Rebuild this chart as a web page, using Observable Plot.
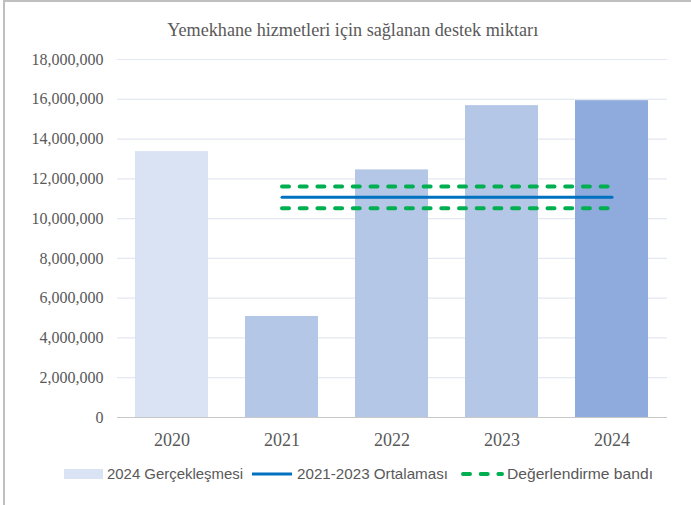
<!DOCTYPE html>
<html>
<head>
<meta charset="utf-8">
<script src="https://cdn.jsdelivr.net/npm/d3@7"></script>
<script src="https://cdn.jsdelivr.net/npm/@observablehq/plot@0.6"></script>
<style>
  html, body { margin: 0; padding: 0; background: #fff; }
  #wrap { position: relative; width: 691px; height: 505px; overflow: hidden; background: #fff; }
  #frameTop { position: absolute; left: 3px; top: 0; width: 688px; height: 2px; background: #bfbfbf; }
  #frameLeft { position: absolute; left: 3px; top: 0; width: 2px; height: 505px; background: #bfbfbf; }
  #title { position: absolute; left: 0; top: 0; }
  #chart { position: absolute; left: 0; top: 50px; }
  #legend { position: absolute; left: 0; top: 455px; }
  #chart svg, #chart svg g, #chart svg text { font-family: "Liberation Serif", "DejaVu Serif", serif !important; font-variant: normal !important; font-variant-numeric: normal !important; }
  #chart svg [stroke-dasharray], #chart svg [stroke-dasharray] path { stroke-linecap: round; }
</style>
</head>
<body>
<div id="wrap">
  <div id="frameTop"></div>
  <div id="frameLeft"></div>
  <svg id="title" width="691" height="50">
    <text x="352.7" y="36" text-anchor="middle" textLength="371" lengthAdjust="spacingAndGlyphs"
      font-family="'Liberation Serif', 'DejaVu Serif', serif" font-size="18.2" fill="#595959">Yemekhane hizmetleri için sağlanan destek miktarı</text>
  </svg>
  <div id="chart"></div>
  <svg id="legend" width="691" height="40"></svg>
</div>
<script>
// ---- data ----
const years = ["2020", "2021", "2022", "2023", "2024"];
const amounts = [13370000, 5080000, 12450000, 15680000, 15930000];
const barColors = ["#dae3f3", "#b4c7e7", "#b4c7e7", "#b4c7e7", "#8faadc"];
const lineYears = ["2021", "2022", "2023", "2024"];
const averageValue = 11070000;     // 2021-2023 Ortalaması
const bandUpper = 11620000;        // Değerlendirme bandı (üst)
const bandLower = 10520000;        // Değerlendirme bandı (alt)
const yTicks = [0, 2000000, 4000000, 6000000, 8000000, 10000000, 12000000, 14000000, 16000000, 18000000];
const legendLabels = ["2024 Gerçekleşmesi", "2021-2023 Ortalaması", "Değerlendirme bandı"];

const bars = years.map((y, i) => ({year: y, value: amounts[i]}));
const avgLine = lineYears.map(y => ({year: y, value: averageValue}));
const upperLine = lineYears.map(y => ({year: y, value: bandUpper}));
const lowerLine = lineYears.map(y => ({year: y, value: bandLower}));

const serif = "'Liberation Serif', 'DejaVu Serif', serif";
const dash = "7,10.7";

const chart = Plot.plot({
  width: 691,
  height: 405,
  marginLeft: 117,
  marginRight: 24,
  marginTop: 9,
  marginBottom: 38,
  style: `font-family: ${serif}; color: #595959; background: transparent; overflow: visible;`,
  x: { domain: years, paddingInner: 0.335, paddingOuter: 0.1675, label: null },
  y: { domain: [0, 18000000], label: null },
  color: { domain: years, range: barColors },
  marks: [
    Plot.gridY(yTicks, { stroke: "#e3e8f1", strokeOpacity: 1, strokeWidth: 1.2 }),
    Plot.barY(bars, { x: "year", y: "value", fill: "year" }),
    Plot.ruleY([0], { stroke: "#c8c8c8", strokeWidth: 1 }),
    Plot.lineY(upperLine, { x: "year", y: "value", stroke: "#00b050", strokeWidth: 4, strokeDasharray: dash, strokeLinecap: "round" }),
    Plot.lineY(lowerLine, { x: "year", y: "value", stroke: "#00b050", strokeWidth: 4, strokeDasharray: dash, strokeLinecap: "round" }),
    Plot.lineY(avgLine, { x: "year", y: "value", stroke: "#0070c0", strokeWidth: 3 }),
    Plot.axisY(yTicks, { tickSize: 0, tickPadding: 14, tickFormat: d3.format(","), fontSize: 16, fontFamily: serif, fill: "#595959", label: null }),
    Plot.axisX({ tickSize: 0, tickPadding: 16, fontSize: 18, fontFamily: serif, fill: "#595959", label: null })
  ]
});
document.getElementById("chart").appendChild(chart);

// ---- legend ----
const ns = "http://www.w3.org/2000/svg";
const lg = document.getElementById("legend");
function el(tag, attrs) {
  const e = document.createElementNS(ns, tag);
  for (const k in attrs) e.setAttribute(k, attrs[k]);
  lg.appendChild(e);
  return e;
}
const cy = 19; // 474 - 455
el("rect", { x: 64, y: 14, width: 39, height: 10, fill: barColors[0] });
el("line", { x1: 252, x2: 292, y1: cy, y2: cy, stroke: "#0070c0", "stroke-width": 3 });
el("line", { x1: 463, x2: 502, y1: cy, y2: cy, stroke: "#00b050", "stroke-width": 4, "stroke-dasharray": dash, "stroke-linecap": "round" });
const textPos = [[107, 136], [297, 151], [507, 146]];
legendLabels.forEach((lab, i) => {
  const t = el("text", { x: textPos[i][0], y: 24, textLength: textPos[i][1], lengthAdjust: "spacingAndGlyphs",
    "font-family": "'Liberation Sans', Arial, sans-serif", "font-size": 14.5, fill: "#595959" });
  t.textContent = lab;
});
</script>
</body>
</html>
